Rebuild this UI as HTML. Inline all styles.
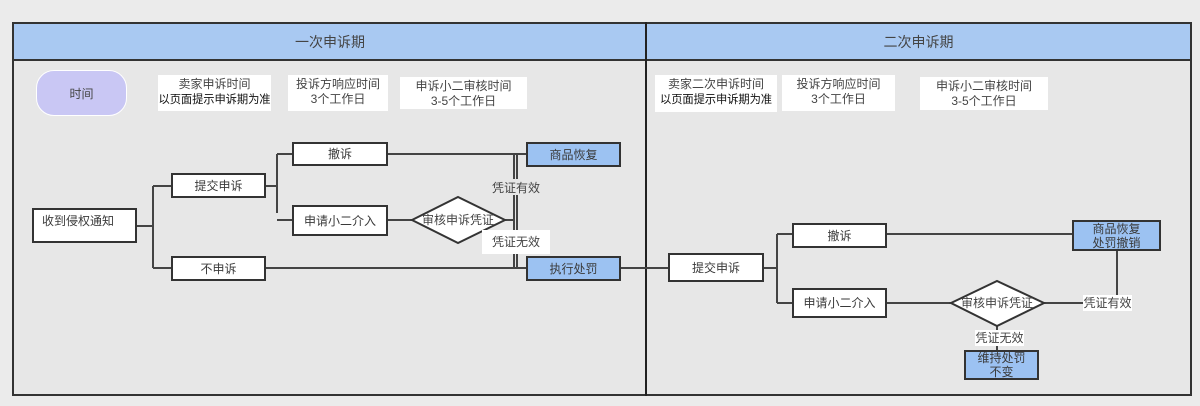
<!DOCTYPE html>
<html><head><meta charset="utf-8">
<style>
html,body{margin:0;padding:0;}
body{width:1200px;height:406px;background:#ebebeb;position:relative;overflow:hidden;font-family:"Liberation Sans","Noto Sans CJK SC",sans-serif;color:#3a3a3a;}
.a{position:absolute;box-sizing:border-box;}
.hdr{background:#a9c9f2;font-size:14px;display:flex;align-items:center;justify-content:center;color:#444;}
.box{border:2px solid #333;background:#fff;font-size:12px;display:flex;align-items:center;justify-content:center;line-height:14px;text-align:center;white-space:nowrap;}
.blue{background:#9cc2f2;}
.note{background:#fff;font-size:12px;text-align:center;line-height:15px;padding-top:2px;color:#444;white-space:nowrap;}
.note b{font-weight:normal;color:#111;font-size:11.3px;letter-spacing:-0.1px;}
.lbl{font-size:12px;color:#444;text-align:center;white-space:nowrap;}
</style></head><body>
<!-- frame -->
<div class="a" style="left:12px;top:22px;width:1180px;height:374px;border:2px solid #333;background:#e7e7e7;"></div>
<div class="a hdr" style="left:14px;top:24px;width:632px;height:36px;">一次申诉期</div>
<div class="a hdr" style="left:647px;top:24px;width:543px;height:36px;">二次申诉期</div>
<div class="a" style="left:12px;top:59px;width:1180px;height:2px;background:#333;"></div>
<div class="a" style="left:645px;top:22px;width:2px;height:374px;background:#222;"></div>

<!-- time oval -->
<div class="a" style="left:36px;top:70px;width:91px;height:46px;border-radius:18px;background:#c9c7f4;border:1px solid #fff;font-size:12px;display:flex;align-items:center;justify-content:center;color:#444;">时间</div>

<div class="a note" style="left:158px;top:75px;width:113px;height:36px;">卖家申诉时间<br><b>以页面提示申诉期为准</b></div>
<div class="a note" style="left:288px;top:75px;width:100px;height:36px;">投诉方响应时间<br>3个工作日</div>
<div class="a note" style="left:400px;top:77px;width:127px;height:32px;">申诉小二审核时间<br>3-5个工作日</div>

<div class="a note" style="left:655px;top:75px;width:122px;height:37px;">卖家二次申诉时间<br><b>以页面提示申诉期为准</b></div>
<div class="a note" style="left:782px;top:75px;width:113px;height:36px;">投诉方响应时间<br>3个工作日</div>
<div class="a note" style="left:920px;top:77px;width:128px;height:33px;">申诉小二审核时间<br>3-5个工作日</div>

<!-- lines -->
<svg class="a" style="left:0;top:0;" width="1200" height="406">
<g stroke="#444" stroke-width="2" fill="none">
<path d="M137 226H153M153 186V268M153 186H171M153 268H171"/>
<path d="M266 186H277M277 154V213M277 154H293M277 220H293"/>
<path d="M388 154H526"/>
<path d="M388 220H412"/>
<path d="M505 220H515"/>
<path d="M514 154V268M517 154V268"/>
<path d="M266 268H526"/>
<path d="M621 268H668"/>
<path d="M764 268H777M777 234V303M777 234H792M777 303H792"/>
<path d="M887 234H1072"/>
<path d="M887 303H951"/>
<path d="M1044 303H1117V251"/>
<path d="M997 326V350"/>
</g>
<polygon points="412,220 458,197 505,220 458,243" fill="#fff" stroke="#333" stroke-width="2"/>
<text x="458" y="224" font-size="12" text-anchor="middle" fill="#444" font-family="Liberation Sans, Noto Sans CJK SC, sans-serif">审核申诉凭证</text>
<polygon points="951,303 997,281 1044,303 997,326" fill="#fff" stroke="#333" stroke-width="2"/>
<text x="997" y="307" font-size="12" text-anchor="middle" fill="#444" font-family="Liberation Sans, Noto Sans CJK SC, sans-serif">审核申诉凭证</text>
</svg>

<!-- left flow -->
<div class="a box" style="left:32px;top:208px;width:105px;height:35px;align-items:flex-start;justify-content:flex-start;padding:4px 0 0 8px;">收到侵权通知</div>
<div class="a box" style="left:171px;top:173px;width:95px;height:25px;">提交申诉</div>
<div class="a box" style="left:171px;top:256px;width:95px;height:25px;">不申诉</div>
<div class="a box" style="left:292px;top:142px;width:96px;height:24px;">撤诉</div>
<div class="a box" style="left:292px;top:205px;width:96px;height:31px;">申请小二介入</div>
<div class="a box blue" style="left:526px;top:142px;width:95px;height:25px;">商品恢复</div>
<div class="a box blue" style="left:526px;top:256px;width:95px;height:25px;">执行处罚</div>
<div class="a lbl" style="left:490px;top:179px;width:52px;height:16px;background:#e7e7e7;">凭证有效</div>
<div class="a lbl" style="left:482px;top:230px;width:68px;height:24px;background:#fff;line-height:24px;">凭证无效</div>

<!-- right flow -->
<div class="a box" style="left:668px;top:253px;width:96px;height:29px;">提交申诉</div>
<div class="a box" style="left:792px;top:223px;width:95px;height:25px;">撤诉</div>
<div class="a box" style="left:792px;top:288px;width:95px;height:30px;">申请小二介入</div>
<div class="a box blue" style="left:1072px;top:220px;width:89px;height:31px;">商品恢复<br>处罚撤销</div>
<div class="a box blue" style="left:964px;top:350px;width:75px;height:30px;">维持处罚<br>不变</div>
<div class="a lbl" style="left:1083px;top:295px;width:49px;height:16px;background:#fff;line-height:16px;">凭证有效</div>
<div class="a lbl" style="left:975px;top:330px;width:49px;height:16px;background:#fff;line-height:16px;">凭证无效</div>
</body></html>
